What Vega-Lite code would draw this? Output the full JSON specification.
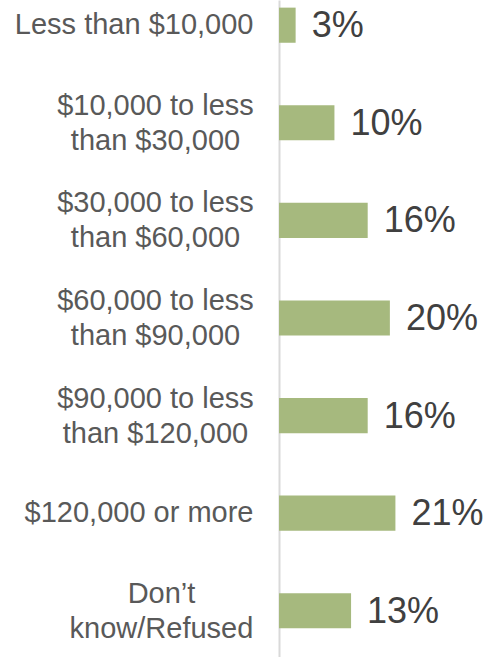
{
  "$schema": "https://vega.github.io/schema/vega-lite/v6.json",
  "autosize": "none",
  "padding": {"left": 279, "top": 0, "right": 0, "bottom": 0},
  "width": 209,
  "height": 657,
  "background": "white",
  "config": {"view": {"stroke": null}},
  "data": {"values": [
    {"cat": "Less than $10,000", "pct": 0.03},
    {"cat": "$10,000 to less|than $30,000", "pct": 0.10},
    {"cat": "$30,000 to less|than $60,000", "pct": 0.16},
    {"cat": "$60,000 to less|than $90,000", "pct": 0.20},
    {"cat": "$90,000 to less|than $120,000", "pct": 0.16},
    {"cat": "$120,000 or more", "pct": 0.21},
    {"cat": "Don’t|know/Refused", "pct": 0.13}
  ]},
  "encoding": {
    "y": {
      "field": "cat", "type": "nominal", "sort": null,
      "scale": {"paddingInner": 0.64, "paddingOuter": 0.186, "align": 0.21},
      "axis": {
        "title": null, "ticks": false, "grid": false,
        "domainColor": "#d9d9d9", "domainWidth": 2,
        "labelExpr": "split(datum.label, '|')",
        "labelFont": "Liberation Sans", "labelFontSize": 29, "labelColor": "#595959",
        "labelLimit": 400, "labelLineHeight": 35,
        "labelBaseline": "middle",
        "labelAlign": {"condition": {"test": "indexof(datum.label, '|') >= 0", "value": "center"}, "value": "right"},
        "labelPadding": {"condition": [
          {"test": "indexof(datum.label, 'Don') >= 0", "value": 118},
          {"test": "indexof(datum.label, '|') >= 0", "value": 124}
        ], "value": 26},
        "labelOffset": {"condition": {"test": "indexof(datum.label, '|') >= 0", "value": -17}, "value": 0}
      }
    },
    "x": {
      "field": "pct", "type": "quantitative",
      "scale": {"domain": [0, 0.377], "nice": false},
      "axis": null
    }
  },
  "layer": [
    {"mark": {"type": "bar", "color": "#a6b97e"}},
    {
      "mark": {"type": "text", "align": "left", "baseline": "middle", "dx": 16, "dy": 1, "font": "Liberation Sans", "fontSize": 36, "color": "#404040"},
      "encoding": {"text": {"field": "pct", "type": "quantitative", "format": ".0%"}}
    }
  ]
}
